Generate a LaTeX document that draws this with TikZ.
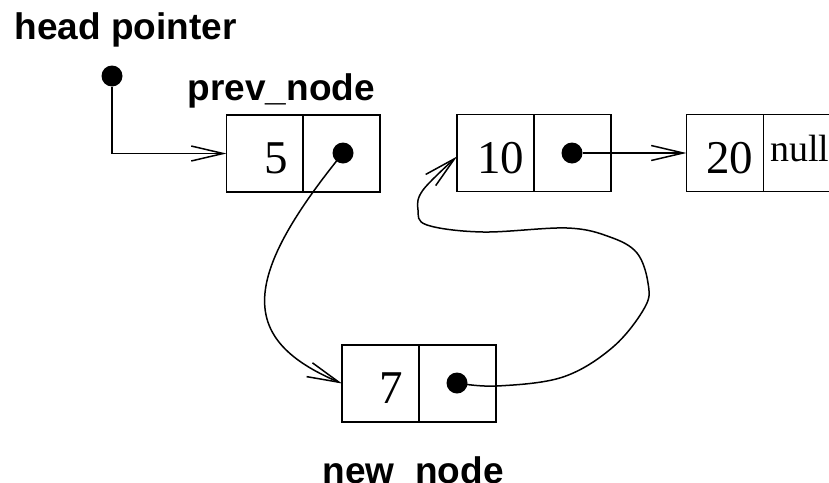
\documentclass[tikz,border=0pt]{standalone}
\usepackage{fontspec}
\setmainfont{Liberation Serif}
\newfontfamily\labfont{Liberation Sans}
\usetikzlibrary{arrows.meta}
\begin{document}
\begin{tikzpicture}[x=1pt,y=-1pt,
  cell/.style={draw, line width=1.8pt, minimum width=77pt, minimum height=77pt, inner sep=0pt, outer sep=0pt},
  num/.style={font=\fontsize{47}{47}\selectfont, inner sep=0pt, anchor=base},
  small/.style={font=\fontsize{38}{38}\selectfont, inner sep=0pt, anchor=base west},
  lab/.style={font=\labfont\bfseries\fontsize{37}{37}\selectfont, inner sep=0pt, anchor=base west},
  dot/.style={circle, fill, inner sep=0pt, minimum size=21pt},
  ptr/.style={line width=1.5pt, -{Straight Barb[length=32pt,width=15pt]}}
]
\useasboundingbox (0,0) rectangle (829,482);

% labels
\node[lab] (hp) at (14.5,39) {head pointer};
\node[lab] (pn) at (187.5,100) {prev\_node};
\node[lab] (nn) at (322.5,483) {new\_node};

% boxes
\node[cell] (b5a) at (265,153.5) {};
\node[cell] (b5b) at (341.5,153.5) {};
\node[cell] (b10a) at (495.5,153) {};
\node[cell] (b10b) at (572.5,153) {};
\node[cell] (b20a) at (725,153) {};
\node[cell] (b20b) at (802,153) {};
\node[cell] (b7a) at (380.5,383.5) {};
\node[cell] (b7b) at (457.5,383.5) {};

% values
\node[num] (t5) at (276.5,173) {5};
\node[num] (t10) at (500.5,173) {10};
\node[num] (t20) at (729.5,173) {20};
\node[num] (t7) at (391,403) {7};
\node[small] (tnull) at (770,161) {null};

% dots
\node[dot] (hd) at (112,76) {};
\node[dot] (d5) at (343,153) {};
\node[dot] (d10) at (572,153) {};
\node[dot] (d7) at (457,383) {};

% connectors
\draw[ptr] (hd) |- (b5a.west);
\draw[ptr] (d10) -- (b20a.west);
\draw[ptr] (d5.center) .. controls (239,281) and (239.5,340) .. (b7a.west);
\draw[ptr] plot[smooth, tension=0.6] coordinates {(d7.center) (497,386) (563,377) (613,347) (645,307) (648,283) (637,253) (610,237) (567,228) (483,232) (427,225) (418,210) (423,190) ([yshift=-3.5pt]b10a.west)};
\end{tikzpicture}
\end{document}
